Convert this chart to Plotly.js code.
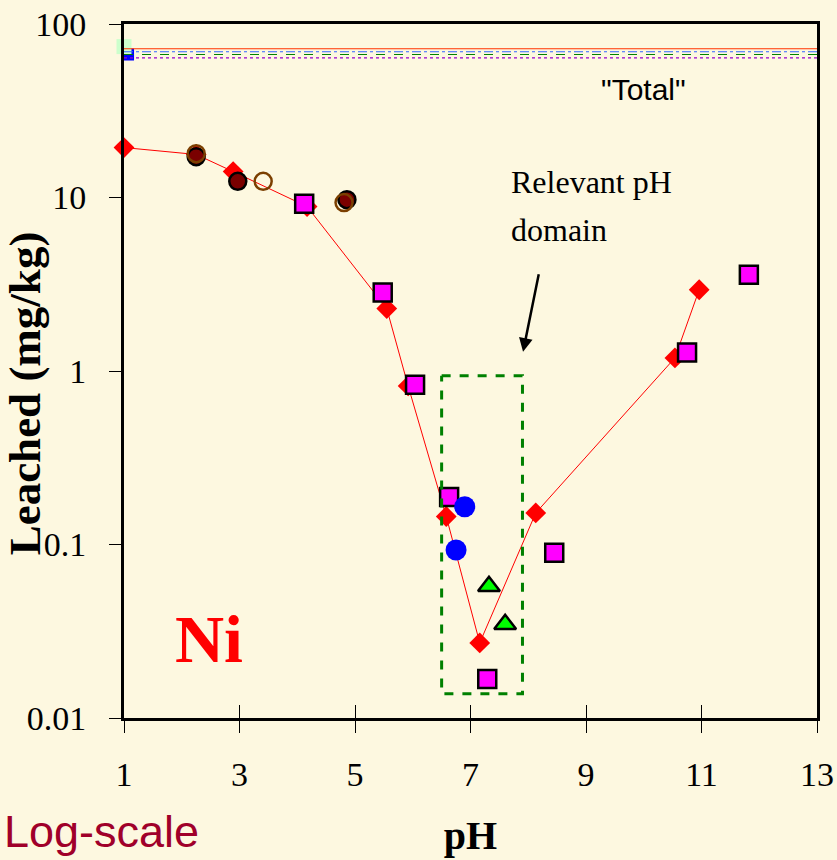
<!DOCTYPE html>
<html>
<head>
<meta charset="utf-8">
<script src="https://cdn.plot.ly/plotly-3.0.1.min.js"></script>
<style>html,body{margin:0;padding:0;background:#fdf8e0;}#chart{width:837px;height:860px;}</style>
</head>
<body>
<div id="chart"></div>
<script>
// ---- data ----
const xRange = [1, 13];
const xTicks = [1, 3, 5, 7, 9, 11, 13];
const yTickVals = [0.01, 0.1, 1, 10, 100];
const yTickText = ['0.01', '0.1', '1', '10', '100'];

// red diamonds connected by a line
const diamondPH  = [1.0, 2.25, 2.89, 4.17, 5.55, 5.92, 6.58, 7.16, 8.13, 10.54, 10.96];
const diamondVal = [19.4, 17.7, 14.1, 8.87, 2.29, 0.82, 0.145, 0.0271, 0.152, 1.19, 2.94];

// magenta squares
const squarePH  = [4.12, 5.48, 6.04, 6.63, 7.29, 8.45, 10.75, 11.82];
const squareVal = [9.2, 2.83, 0.834, 0.188, 0.0168, 0.0895, 1.28, 3.59];

// dark red filled circles
const filledPH  = [2.25, 2.97, 4.86];
const filledVal = [17.2, 12.4, 9.72];

// brown open circles
const openPH  = [2.25, 3.41, 4.81];
const openVal = [17.9, 12.4, 9.35];

// blue circles
const bluePH  = [6.90, 6.75];
const blueVal = [0.165, 0.093];

// green triangles
const triPH  = [7.32, 7.60];
const triVal = [0.0575, 0.0347];

// "Total" reference levels
const totalPH = [1, 13];
const totalRed = 72;
const totalBlue = 69.2;
const totalGreen = 66.7;
const totalPurple = 63.8;
const totalSquarePH = [1.07];
const totalSquareBlue = [66.7];
const totalSquareGreenPH = [1.0];
const totalSquareGreen = [74.1];

// relevant pH domain box
const boxPH = [6.5, 7.9];
const boxVal = [0.0138, 0.94];

// ---- traces ----
const serif = 'Liberation Serif, Times New Roman, serif';
const sans = 'Liberation Sans, Arial, sans-serif';

const traces = [
  {x: totalPH, y: [totalRed, totalRed], xaxis: 'x2', mode: 'lines', line: {color: '#ff3300', width: 1}, hoverinfo: 'skip'},
  {x: totalPH, y: [totalBlue, totalBlue], xaxis: 'x2', mode: 'lines', line: {color: '#3366ff', width: 1.2, dash: 'dashdot'}, hoverinfo: 'skip'},
  {x: totalPH, y: [totalGreen, totalGreen], xaxis: 'x2', mode: 'lines', line: {color: '#008000', width: 1.2, dash: 'dash'}, hoverinfo: 'skip'},
  {x: totalPH, y: [totalPurple, totalPurple], xaxis: 'x2', mode: 'lines', line: {color: '#9900cc', width: 1.2, dash: 'dot'}, hoverinfo: 'skip'},
  {x: totalSquarePH, y: totalSquareBlue, mode: 'markers', marker: {symbol: 'square', size: 12, color: '#0000ff'}, cliponaxis: false},
  {x: totalSquareGreenPH, y: totalSquareGreen, mode: 'markers', marker: {symbol: 'square', size: 15, color: '#ccffcc'}, cliponaxis: false},
  {x: diamondPH, y: diamondVal, mode: 'lines+markers', line: {color: '#ff0000', width: 1},
   marker: {symbol: 'diamond', size: 16, color: '#ff0000'}, cliponaxis: false},
  {x: squarePH, y: squareVal, mode: 'markers', marker: {symbol: 'square', size: 18, color: '#ff00ff', line: {color: '#000000', width: 2.5}}},
  {x: filledPH, y: filledVal, mode: 'markers', marker: {symbol: 'circle', size: 17, color: '#7a0000', line: {color: '#000000', width: 2.5}}},
  {x: openPH, y: openVal, mode: 'markers', marker: {symbol: 'circle-open', size: 17, color: '#7b3f00', line: {color: '#7b3f00', width: 2.5}}},
  {x: bluePH, y: blueVal, mode: 'markers', marker: {symbol: 'circle', size: 21, color: '#0000ff'}},
  {x: triPH, y: triVal, mode: 'markers', marker: {symbol: 'triangle-up', size: 19, color: '#00ff00', line: {color: '#000000', width: 2.5}}},
  {x: [boxPH[0], boxPH[1], boxPH[1], boxPH[0], boxPH[0]], y: [boxVal[1], boxVal[1], boxVal[0], boxVal[0], boxVal[1]],
   mode: 'lines', line: {color: '#008000', width: 3, dash: 'dash'}, hoverinfo: 'skip'}
];

const layout = {
  width: 837, height: 860,
  margin: {l: 124, r: 20, t: 24, b: 142},
  paper_bgcolor: '#fdf8e0', plot_bgcolor: '#fdf8e0',
  showlegend: false,
  xaxis: {
    range: xRange, tickvals: xTicks, ticks: 'outside', ticklen: 12, tickwidth: 1, tickcolor: '#000',
    showline: true, linewidth: 3, linecolor: '#000', mirror: true, showgrid: false, zeroline: false,
    tickfont: {family: serif, size: 34, color: '#000'}, ticklabelstandoff: 12,
    title: {text: '<b>pH</b>', font: {family: serif, size: 40, color: '#000'}, standoff: 30}
  },
  xaxis2: {
    range: xRange, overlaying: 'x', anchor: 'y', side: 'bottom', tickvals: xTicks, ticks: 'inside', ticklen: 13,
    tickwidth: 1, tickcolor: '#000', showticklabels: false, showline: false, showgrid: false, zeroline: false
  },
  yaxis: {
    type: 'log', range: [-2, 2], tickvals: yTickVals, ticktext: yTickText, ticks: 'outside', ticklen: 12,
    tickwidth: 1, tickcolor: '#000', showline: true, linewidth: 3, linecolor: '#000', mirror: true,
    showgrid: false, zeroline: false, tickfont: {family: serif, size: 34, color: '#000'}, ticklabelstandoff: 16,
    title: {text: '<b>Leached (mg/kg)</b>&nbsp;&nbsp;&nbsp;&nbsp;', font: {family: serif, size: 45, color: '#000'}, standoff: 0}
  },
  annotations: [
    {xref: 'x', yref: 'y', x: 7.91, y: 0.111, ax: 16, ay: -79, showarrow: true, arrowhead: 2, arrowsize: 1.1,
     arrowwidth: 2.5, arrowcolor: '#000', text: ''},
    {xref: 'paper', yref: 'paper', x: 0.556, y: 0.772, xanchor: 'left', yanchor: 'middle', showarrow: false,
     text: 'Relevant pH', font: {family: serif, size: 32, color: '#000'}},
    {xref: 'paper', yref: 'paper', x: 0.556, y: 0.703, xanchor: 'left', yanchor: 'middle', showarrow: false,
     text: 'domain', font: {family: serif, size: 32, color: '#000'}},
    {xref: 'paper', yref: 'paper', x: 0.749, y: 0.905, xanchor: 'center', yanchor: 'middle', showarrow: false,
     text: '"Total"', font: {family: sans, size: 30, color: '#000'}},
    {xref: 'paper', yref: 'paper', x: 0.123, y: 0.114, xanchor: 'center', yanchor: 'middle', showarrow: false,
     text: '<b>Ni</b>', font: {family: serif, size: 68, color: '#ff0000'}},
    {xref: 'paper', yref: 'paper', x: -0.176, y: -0.163, xanchor: 'left', yanchor: 'middle', showarrow: false,
     text: 'Log-scale', font: {family: sans, size: 45, color: '#a0002a'}}
  ]
};

Plotly.newPlot('chart', traces, layout, {displayModeBar: false, staticPlot: true});
</script>
</body>
</html>
